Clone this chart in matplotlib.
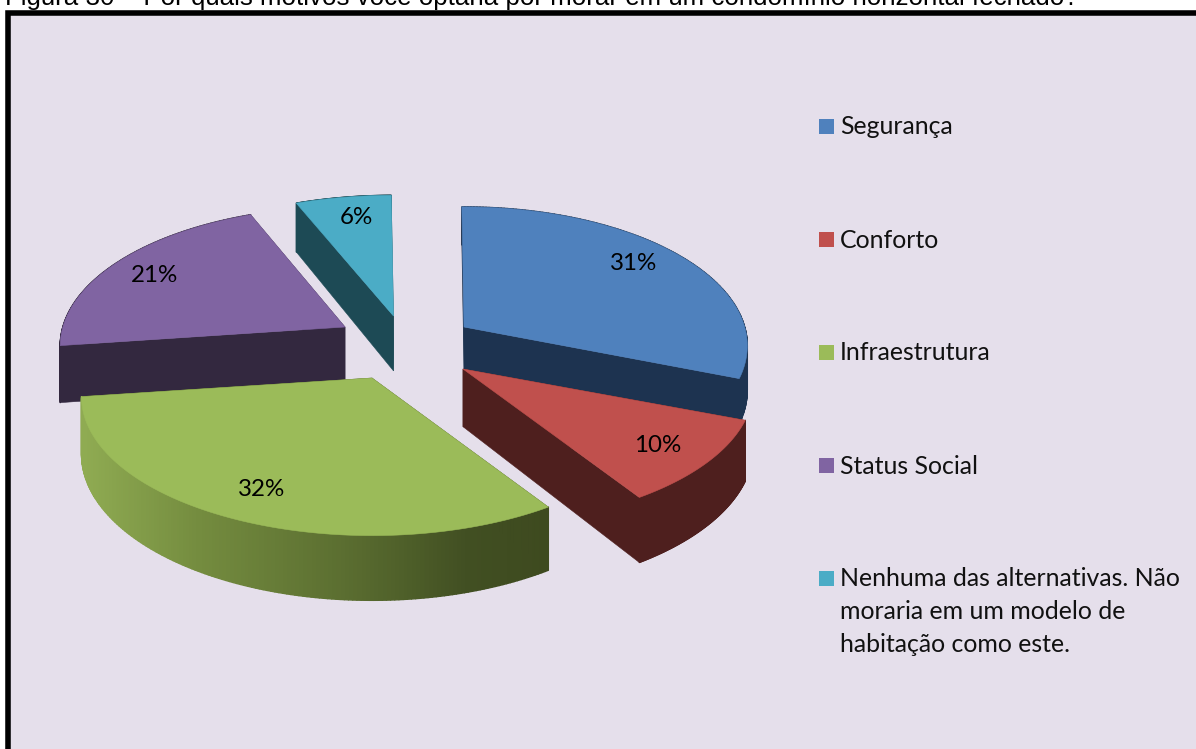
import numpy as np
import matplotlib
matplotlib.use("Agg")
import matplotlib.pyplot as plt
from matplotlib.patches import Polygon, Rectangle
from matplotlib.collections import PolyCollection
from matplotlib.colors import to_rgb

# --- data ---
categories = ["Segurança", "Conforto", "Infraestrutura", "Status Social",
              "Nenhuma das alternativas. Não\nmoraria em um modelo de\nhabitação como este."]
values = [31, 10, 32, 21, 6]
pct_labels = ["31%", "10%", "32%", "21%", "6%"]
caption = ("Figura 30 – Por quais motivos você optaria por morar em um "
           "condomínio horizontal fechado?")

# --- style ---
top_colors = ["#4f81bd", "#c0504d", "#9bbb59", "#8064a2", "#4bacc6"]
wall_colors = ["#1d3350", "#4e1f1e", "#3e4a20", "#33283f", "#1d4a55"]
green_x = [85, 200, 350, 470, 547]
green_stops = ["#8fab52", "#748c3f", "#5a6d30", "#414f22", "#3e4a1f"]
bg = "#e5dfeb"

# --- layout (pixel space of the figure) ---
apexes = [(464, 327), (463, 369), (372, 378), (345, 327), (393.5, 316)]
scale_x = [0.985, 1.01, 1.01, 0.99, 1.02]
scale_y = [0.985, 0.98, 0.985, 0.985, 0.99]
depth_scale = [0.77, 1.03, 1.0, 1.0, 0.98]
label_pos = [(634, 264), (658, 446), (262, 490), (154, 276), (356, 218)]
legend_y = [126.5, 239.5, 352.5, 465.5, 578]
draw_order = [4, 3, 0, 1, 2]
A, B, K, D = 285.0, 138.4, 0.135, 56.0
START = 90.5

fig = plt.figure(figsize=(11.96, 7.49), dpi=100, facecolor="white")
ax = fig.add_axes([0, 0, 1, 1])
ax.set_xlim(0, 1196)
ax.set_ylim(749, 0)
ax.axis("off")


def project(theta_deg, apex, sx, sy, ds):
    t = np.radians(theta_deg)
    X, Y = np.cos(t), -np.sin(t)
    den = 1 - K * Y
    return (apex[0] + sx * A * X / den,
            apex[1] + sy * B * Y / den,
            ds * D / den)


def green_color(px):
    rgb = np.array([to_rgb(c) for c in green_stops])
    return tuple(np.interp(px, green_x, rgb[:, k]) for k in range(3))


# panel
ax.add_patch(Rectangle((8, 12.5), 1300, 900, facecolor=bg, edgecolor="black",
                       linewidth=4.0, zorder=0))
ax.text(5, 5, caption, family="Liberation Sans", fontsize=18.65, color="black",
        ha="left", va="baseline", zorder=1, clip_on=False)

# slices
total = sum(values)
edges = START - np.cumsum([0] + values) * 360.0 / total
z = 2
for i in draw_order:
    t0, t1 = edges[i], edges[i + 1]
    apex, sx, sy, ds = apexes[i], scale_x[i], scale_y[i], depth_scale[i]
    th = np.linspace(t0, t1, 160)
    x, y, d = project(th, apex, sx, sy, ds)
    # radial walls
    for t_end in (t0, t1):
        ex, ey, ed = project(t_end, apex, sx, sy, ds)
        ax.add_patch(Polygon([apex, (ex, ey), (ex, ey + ed), (apex[0], apex[1] + ds * D)],
                             closed=True, facecolor=wall_colors[i], edgecolor=wall_colors[i],
                             linewidth=0.4, zorder=z))
    # outer wall
    quads, cols = [], []
    for j in range(len(th) - 1):
        quads.append([(x[j], y[j]), (x[j + 1], y[j + 1]),
                      (x[j + 1], y[j + 1] + d[j + 1]), (x[j], y[j] + d[j])])
        cols.append(green_color(x[j]) if i == 2 else to_rgb(wall_colors[i]))
    ax.add_collection(PolyCollection(quads, facecolors=cols, edgecolors=cols,
                                     linewidths=1.0, zorder=z + 0.1))
    # top
    ax.add_patch(Polygon([apex] + list(zip(x, y)), closed=True, facecolor=top_colors[i],
                         edgecolor=top_colors[i], linewidth=0.4, zorder=z + 0.2))
    z += 1

for lab, (lx, ly) in zip(pct_labels, label_pos):
    ax.text(lx, ly, lab, family="Lato", fontsize=17.4, color="black",
            ha="center", va="center", zorder=20)

# legend
for cat, col, ly in zip(categories, top_colors, legend_y):
    ax.add_patch(Rectangle((819, ly - 7.5), 15, 15, facecolor=col, edgecolor="none", zorder=20))
    ax.text(840, ly - 11, cat, family="Lato", fontsize=17.9, color="#111111",
            ha="left", va="top", linespacing=1.52, zorder=20)

fig.savefig("out.png", dpi=100, facecolor="white")
